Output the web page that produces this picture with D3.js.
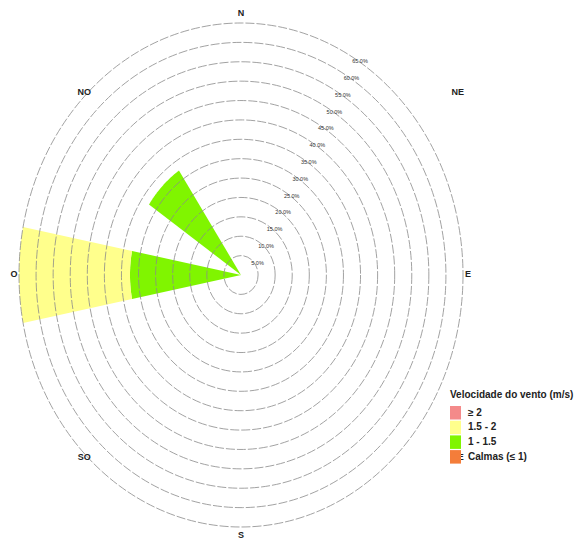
<!DOCTYPE html>
<html>
<head>
<meta charset="utf-8">
<script src="https://cdn.jsdelivr.net/npm/d3@7"></script>
<style>
  html, body { margin: 0; padding: 0; background: #fff; }
  svg { display: block; font-family: "Liberation Sans", Arial, sans-serif; }
</style>
</head>
<body>
<svg id="chart" width="585" height="542"></svg>
<script>
// ---------------- data ----------------
const directionLabels = ["N", "NE", "E", "SE", "S", "SO", "O", "NO"];
const directionAngles = [0, 45, 90, 135, 180, 225, 270, 315];

// sectors that have wind (degrees, clockwise from north)
const sectorAngles = [270, 315];
// frequency (%) per speed class, per sector
const freqCalm = [0, 0];
const freq1to15 = [32.5, 32.5];
const freq15to2 = [32.5, 0];
const freqGe2 = [0, 0];

const speedClasses = ["≥ 2", "1.5 - 2", "1 - 1.5", "Calmas (≤ 1)"];
const speedColors = ["#f48a8a", "#ffff8c", "#80f500", "#f47d3a"];

const ringTicks = [5, 10, 15, 20, 25, 30, 35, 40, 45, 50, 55, 60, 65];
const ringLabels = ["5.0%", "10.0%", "15.0%", "20.0%", "25.0%", "30.0%", "35.0%",
                    "40.0%", "45.0%", "50.0%", "55.0%", "60.0%", "65.0%"];

// ---------------- layout ----------------
const svg = d3.select("#chart");
const cx = 241, cy = 275;
const rX = d3.scaleLinear().domain([0, 65]).range([0, 222]);
const rY = d3.scaleLinear().domain([0, 65]).range([0, 252]);
const halfWidth = 11; // degrees

const rad = d => d * Math.PI / 180;
const pt = (v, a) => [cx + rX(v) * Math.sin(rad(a)), cy - rY(v) * Math.cos(rad(a))];
const line = d3.line();

function wedge(v0, v1, a) {
  const angs = d3.range(a - halfWidth, a + halfWidth + 0.001, 0.5);
  const outer = angs.map(t => pt(v1, t));
  const inner = v0 === 0 ? [pt(0, a)] : angs.slice().reverse().map(t => pt(v0, t));
  return line(outer.concat(inner)) + "Z";
}

// ---------------- wedges (stacked) ----------------
const stacks = [freqCalm, freq1to15, freq15to2, freqGe2];
const stackColors = [speedColors[3], speedColors[2], speedColors[1], speedColors[0]];
const gW = svg.append("g");
sectorAngles.forEach((a, i) => {
  let base = 0;
  stacks.forEach((s, k) => {
    const v = s[i];
    if (v > 0) {
      gW.append("path")
        .attr("d", wedge(base, base + v, a))
        .attr("fill", stackColors[k])
        .attr("stroke", "none");
    }
    base += v;
  });
});

// ---------------- rings ----------------
const gR = svg.append("g");
ringTicks.forEach(v => {
  gR.append("ellipse")
    .attr("cx", cx).attr("cy", cy)
    .attr("rx", rX(v)).attr("ry", rY(v))
    .attr("fill", "none")
    .attr("stroke", "#8a8a8a")
    .attr("stroke-width", 0.8)
    .attr("stroke-dasharray", "9,2");
});

// ring labels
ringTicks.forEach((v, i) => {
  const p = pt(v, 30);
  svg.append("text")
    .attr("x", p[0] + 8).attr("y", p[1] + 5)
    .attr("text-anchor", "middle")
    .attr("dominant-baseline", "middle")
    .attr("font-size", 5.5)
    .attr("fill", "#333")
    .text(ringLabels[i]);
});

// ---------------- direction labels ----------------
const lx = d3.scaleLinear().domain([-1, 1]).range([cx - 227, cx + 227]);
const ly = d3.scaleLinear().domain([-1, 1]).range([cy - 261, cy + 261]);
directionLabels.forEach((lab, i) => {
  const a = directionAngles[i];
  const s = Math.sin(rad(a)), c = Math.cos(rad(a));
  const diag = Math.abs(s) > 0.1 && Math.abs(c) > 0.1;
  const fx = diag ? (s > 0 ? 0.955 : -0.69) : s;
  const fy = diag ? Math.sign(c) * 0.7 : c;
  svg.append("text")
    .attr("x", lx(fx)).attr("y", ly(-fy))
    .attr("text-anchor", "middle")
    .attr("dominant-baseline", "middle")
    .attr("font-size", 9)
    .attr("font-weight", "bold")
    .attr("fill", "#222")
    .text(lab);
});

// ---------------- legend ----------------
const lg = svg.append("g").attr("transform", "translate(450,0)");
lg.append("text")
  .attr("x", 0).attr("y", 398)
  .attr("font-size", 10).attr("font-weight", "bold").attr("fill", "#222")
  .text("Velocidade do vento (m/s)");
speedClasses.forEach((lab, i) => {
  const y0 = 406 + i * 14.7;
  lg.append("rect")
    .attr("x", 0).attr("y", y0)
    .attr("width", 11).attr("height", 13.5)
    .attr("fill", speedColors[i]);
  lg.append("text")
    .attr("x", 18).attr("y", y0 + 7)
    .attr("dominant-baseline", "middle")
    .attr("font-size", 10).attr("font-weight", "bold").attr("fill", "#222")
    .text(lab);
});
</script>
</body>
</html>
